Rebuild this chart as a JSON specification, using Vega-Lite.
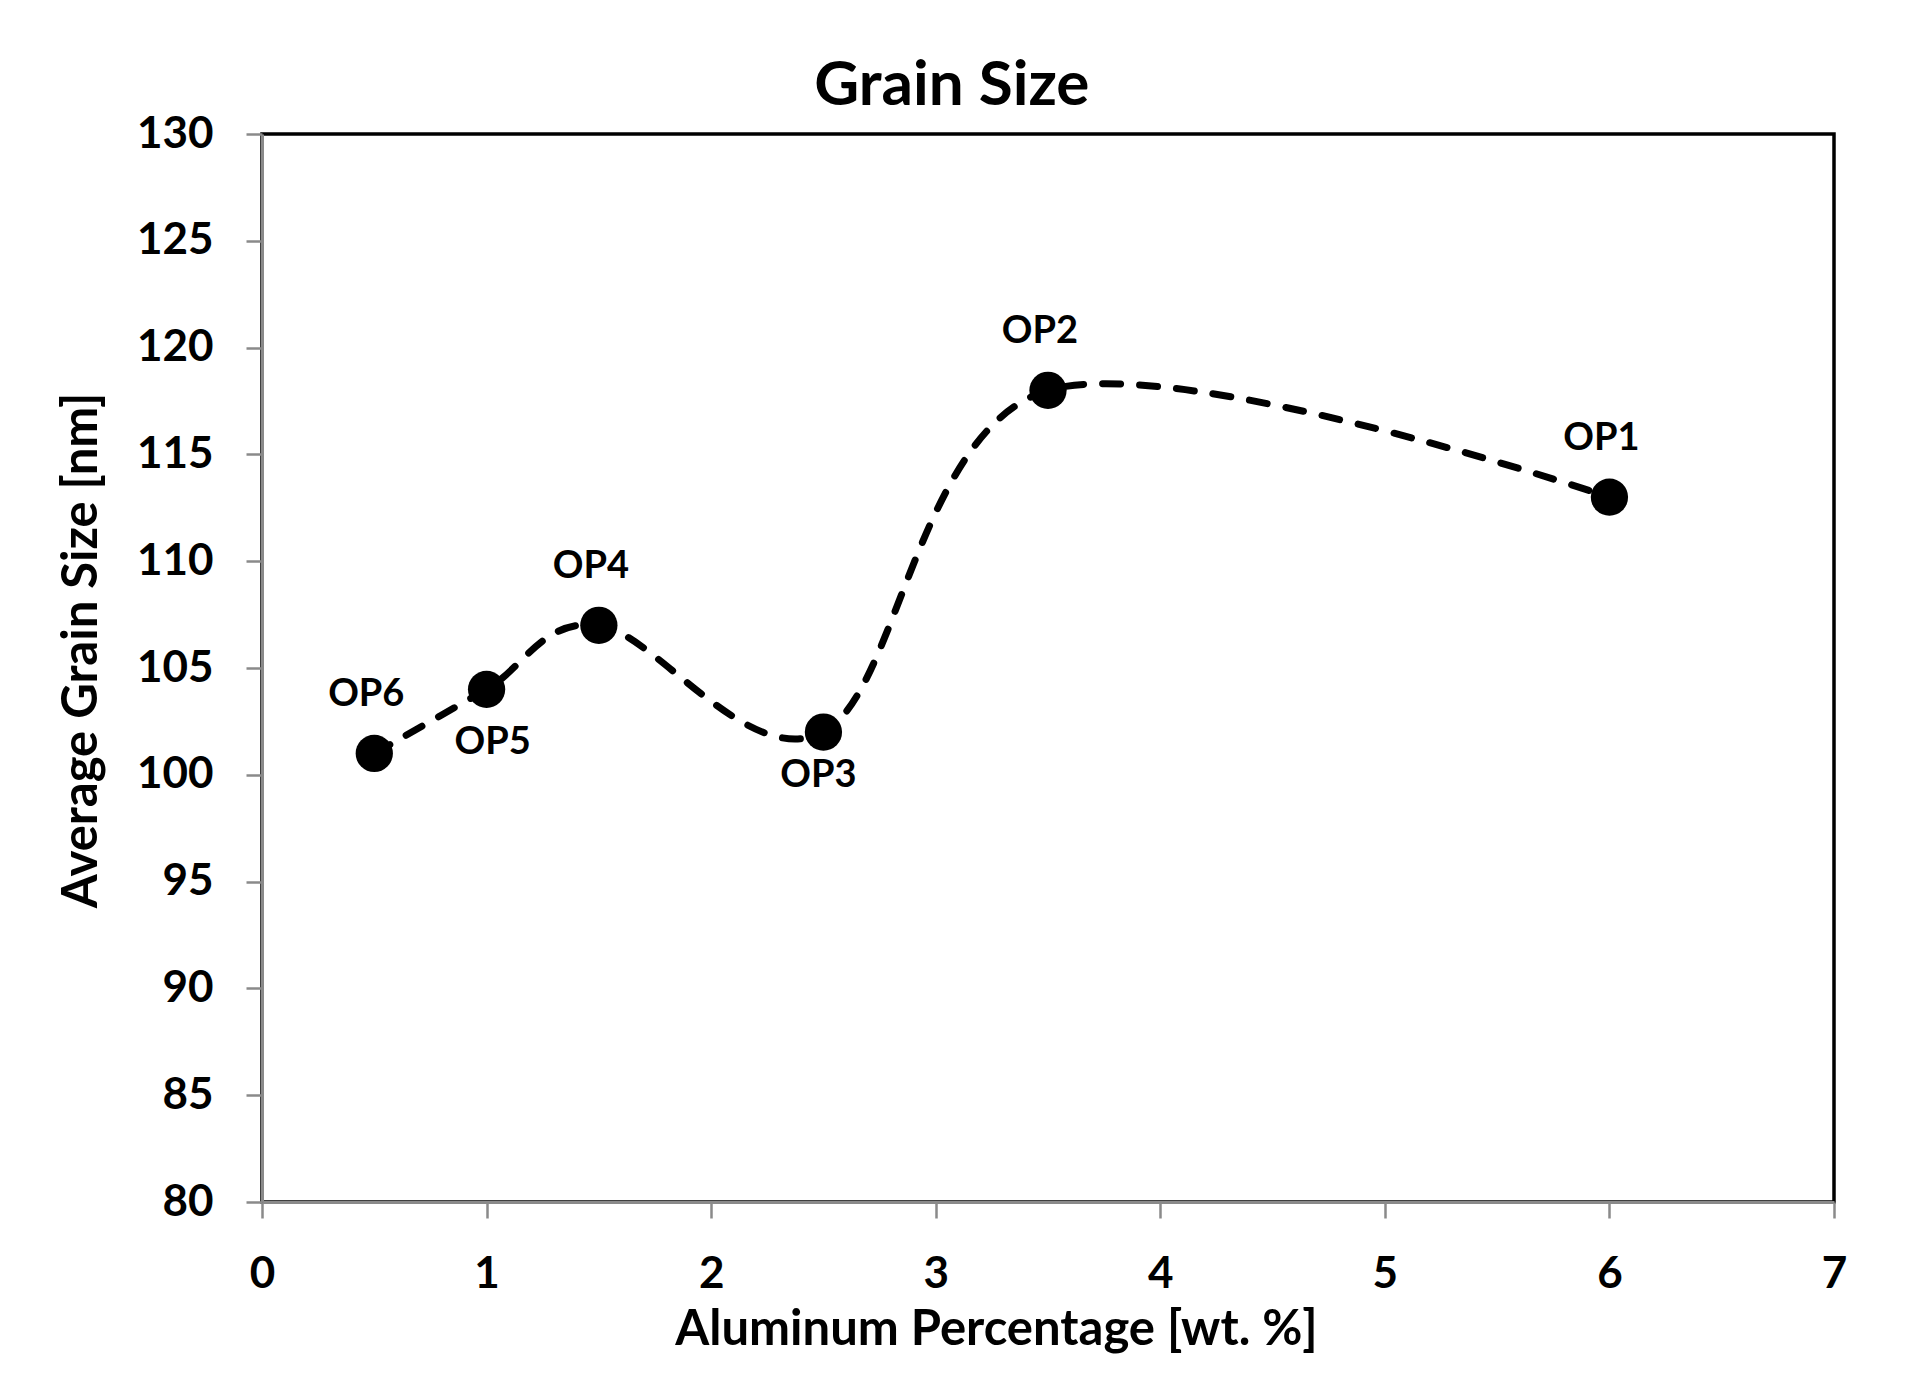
{
  "$schema": "https://vega.github.io/schema/vega-lite/v6.json",
  "autosize": {"type": "none"},
  "width": 1572,
  "height": 1068,
  "padding": {"left": 262, "top": 134, "right": 85, "bottom": 190},
  "background": "white",
  "title": {
    "text": "Grain Size",
    "font": "Lato",
    "fontSize": 62,
    "fontWeight": "bold",
    "color": "black",
    "anchor": "middle",
    "frame": "bounds",
    "baseline": "alphabetic",
    "offset": 14,
    "dy": 69
  },
  "config": {
    "view": {"stroke": "black", "strokeWidth": 3.5},
    "axis": {
      "grid": false,
      "domainColor": "#8a8a8a",
      "domainWidth": 3,
      "tickColor": "#8a8a8a",
      "tickWidth": 2.5,
      "tickSize": 16,
      "labelFont": "Lato",
      "labelFontSize": 44,
      "labelFontWeight": "bold",
      "labelColor": "black",
      "titleFont": "Lato",
      "titleFontSize": 49,
      "titleFontWeight": "bold",
      "titleColor": "black"
    }
  },
  "data": {
    "values": [
      {"label": "OP6", "al": 0.5, "grain": 101},
      {"label": "OP5", "al": 1.0, "grain": 104},
      {"label": "OP4", "al": 1.5, "grain": 107},
      {"label": "OP3", "al": 2.5, "grain": 102},
      {"label": "OP2", "al": 3.5, "grain": 118},
      {"label": "OP1", "al": 6.0, "grain": 113}
    ]
  },
  "encoding": {
    "x": {
      "field": "al",
      "type": "quantitative",
      "scale": {"domain": [0, 7], "nice": false, "zero": false},
      "axis": {
        "title": "Aluminum Percentage [wt. %]",
        "values": [0, 1, 2, 3, 4, 5, 6, 7],
        "labelBaseline": "alphabetic",
        "labelPadding": 69,
        "labelFlush": false,
        "titleX": 734,
        "titleY": 142,
        "titleAlign": "center",
        "titleBaseline": "alphabetic"
      }
    },
    "y": {
      "field": "grain",
      "type": "quantitative",
      "scale": {"domain": [80, 130], "nice": false, "zero": false},
      "axis": {
        "title": "Average Grain Size [nm]",
        "values": [80, 85, 90, 95, 100, 105, 110, 115, 120, 125, 130],
        "labelPadding": 33,
        "labelFlush": false,
        "titleX": -166,
        "titleY": 516,
        "titleAlign": "center",
        "titleBaseline": "alphabetic",
        "titleAngle": -90
      }
    }
  },
  "layer": [
    {
      "mark": {
        "type": "line",
        "interpolate": "cardinal",
        "tension": 0,
        "color": "black",
        "strokeWidth": 7,
        "strokeDash": [18, 19],
        "strokeCap": "round"
      }
    },
    {
      "mark": {"type": "point", "filled": true, "shape": "circle", "size": 1390, "color": "black", "opacity": 1}
    },
    {
      "transform": [{"filter": {"field": "label", "oneOf": ["OP6", "OP4", "OP2", "OP1"]}}],
      "mark": {"type": "text", "font": "Lato", "fontSize": 38, "fontWeight": "bold", "color": "black", "dy": -58, "dx": -8, "baseline": "middle"},
      "encoding": {"text": {"field": "label"}}
    },
    {
      "transform": [{"filter": {"field": "label", "equal": "OP5"}}],
      "mark": {"type": "text", "font": "Lato", "fontSize": 38, "fontWeight": "bold", "color": "black", "dy": 54, "dx": 6, "baseline": "middle"},
      "encoding": {"text": {"field": "label"}}
    },
    {
      "transform": [{"filter": {"field": "label", "equal": "OP3"}}],
      "mark": {"type": "text", "font": "Lato", "fontSize": 38, "fontWeight": "bold", "color": "black", "dy": 44, "dx": -5, "baseline": "middle"},
      "encoding": {"text": {"field": "label"}}
    }
  ]
}
